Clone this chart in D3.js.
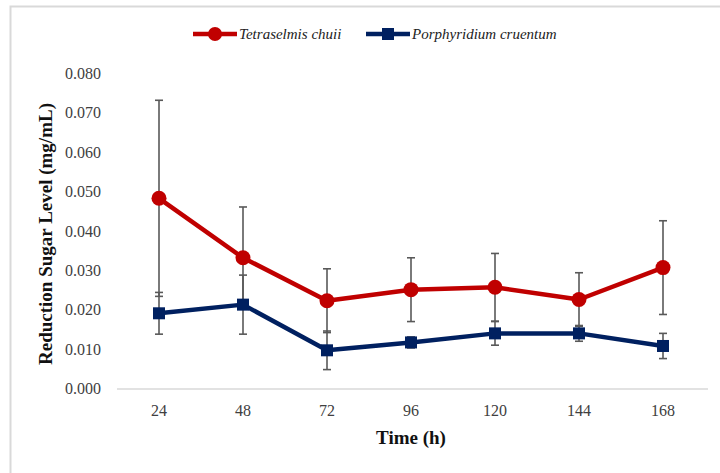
<!DOCTYPE html>
<html lang="en">
  <head>
    <meta charset="UTF-8" />
    <title>Reduction sugar level</title>
    <style>
      body {
        margin: 0;
        background: #fff;
      }
      svg {
        display: block;
      }
      svg text {
        font-family: "Liberation Serif", "Times New Roman", Times, "DejaVu Serif", serif;
      }
    </style>
  </head>
  <body>
    <script src="https://cdn.jsdelivr.net/npm/d3@7"></script>
    <script>
      // values
      var hours = ["24", "48", "72", "96", "120", "144", "168"];
      var tetraMean = [0.0483, 0.0332, 0.0223, 0.0251, 0.0257, 0.0226, 0.0307];
      var tetraErr = [0.0249, 0.0129, 0.0081, 0.0081, 0.0086, 0.0068, 0.0119];
      var porphMean = [0.0191, 0.0213, 0.0097, 0.0117, 0.0140, 0.0140, 0.0108];
      var porphErr = [0.0053, 0.0075, 0.0049, 0.0014, 0.0030, 0.0020, 0.0032];
      var yTicks = [0, 0.01, 0.02, 0.03, 0.04, 0.05, 0.06, 0.07, 0.08];

      var width = 720, height = 473;
      var svg = d3.select("body").append("svg")
        .attr("width", width)
        .attr("height", height);

      // chart area border
      svg.append("rect")
        .attr("x", 10.5).attr("y", 6.5)
        .attr("width", 740).attr("height", 500)
        .attr("fill", "none")
        .attr("stroke", "#d9d9d9")
        .attr("stroke-width", 2);

      var x = d3.scaleBand().domain(hours).range([117, 705]);
      var y = d3.scaleLinear().domain([0, 0.08]).range([388.5, 73.5]);
      var cx = function(h) { return x(h) + x.bandwidth() / 2; };

      // y tick labels (no gridlines)
      svg.append("g")
        .selectAll("text")
        .data(yTicks)
        .enter().append("text")
        .attr("x", 101)
        .attr("y", function(d) { return y(d); })
        .attr("dy", "0.35em")
        .attr("text-anchor", "end")
        .style("font-size", "16px")
        .style("fill", "#404040")
        .text(d3.format(".3f"));

      // x axis line
      svg.append("line")
        .attr("x1", 117).attr("x2", 708)
        .attr("y1", y(0) + 0.5).attr("y2", y(0) + 0.5)
        .attr("stroke", "#d9d9d9")
        .attr("stroke-width", 1.5);

      svg.append("g")
        .selectAll("text")
        .data(hours)
        .enter().append("text")
        .attr("x", cx)
        .attr("y", 416)
        .attr("text-anchor", "middle")
        .style("font-size", "16px")
        .style("fill", "#404040")
        .text(function(d) { return d; });

      // axis titles
      svg.append("text")
        .attr("x", 411).attr("y", 444)
        .attr("text-anchor", "middle")
        .style("font-size", "19px")
        .style("font-weight", "bold")
        .style("fill", "#111")
        .text("Time (h)");

      svg.append("text")
        .attr("transform", "translate(52,234) rotate(-90)")
        .attr("text-anchor", "middle")
        .style("font-size", "19px")
        .style("font-weight", "bold")
        .style("fill", "#111")
        .text("Reduction Sugar Level (mg/mL)");

      var series = [
        { name: "Tetraselmis chuii", mean: tetraMean, err: tetraErr, color: "#c00000", shape: "circle" },
        { name: "Porphyridium cruentum", mean: porphMean, err: porphErr, color: "#002060", shape: "square" }
      ];

      // error bars first, under the lines
      series.forEach(function(s) {
        var g = svg.append("g")
          .attr("stroke", "#595959")
          .attr("stroke-width", 1.6);
        hours.forEach(function(h, i) {
          var top = y(s.mean[i] + s.err[i]);
          var bot = y(s.mean[i] - s.err[i]);
          g.append("line").attr("x1", cx(h)).attr("x2", cx(h)).attr("y1", top).attr("y2", bot);
          g.append("line").attr("x1", cx(h) - 4).attr("x2", cx(h) + 4).attr("y1", top).attr("y2", top);
          g.append("line").attr("x1", cx(h) - 4).attr("x2", cx(h) + 4).attr("y1", bot).attr("y2", bot);
        });
      });

      var line = d3.line()
        .x(function(d) { return cx(d.h); })
        .y(function(d) { return y(d.v); });

      series.forEach(function(s) {
        var pts = hours.map(function(h, i) { return { h: h, v: s.mean[i] }; });
        svg.append("path")
          .datum(pts)
          .attr("d", line)
          .attr("fill", "none")
          .attr("stroke", s.color)
          .attr("stroke-width", 4.5)
          .attr("stroke-linejoin", "round");
        if (s.shape === "circle") {
          svg.append("g").selectAll("circle")
            .data(pts).enter().append("circle")
            .attr("cx", function(d) { return cx(d.h); })
            .attr("cy", function(d) { return y(d.v); })
            .attr("r", 7.5)
            .attr("fill", s.color);
        } else {
          svg.append("g").selectAll("rect")
            .data(pts).enter().append("rect")
            .attr("x", function(d) { return cx(d.h) - 6; })
            .attr("y", function(d) { return y(d.v) - 6; })
            .attr("width", 12).attr("height", 12)
            .attr("fill", s.color);
        }
      });

      // legend
      var legendX = [193, 366];
      series.forEach(function(s, i) {
        var lg = svg.append("g").attr("transform", "translate(" + legendX[i] + ",34)");
        lg.append("line")
          .attr("x1", 0).attr("x2", 44)
          .attr("stroke", s.color)
          .attr("stroke-width", 4.5);
        if (s.shape === "circle") {
          lg.append("circle").attr("cx", 22).attr("r", 7).attr("fill", s.color);
        } else {
          lg.append("rect").attr("x", 16).attr("y", -6).attr("width", 12).attr("height", 12).attr("fill", s.color);
        }
        lg.append("text")
          .attr("x", 46).attr("dy", "0.35em")
          .style("font-size", "15px")
          .style("font-style", "italic")
          .style("fill", "#222")
          .text(s.name);
      });
    </script>
  </body>
</html>
